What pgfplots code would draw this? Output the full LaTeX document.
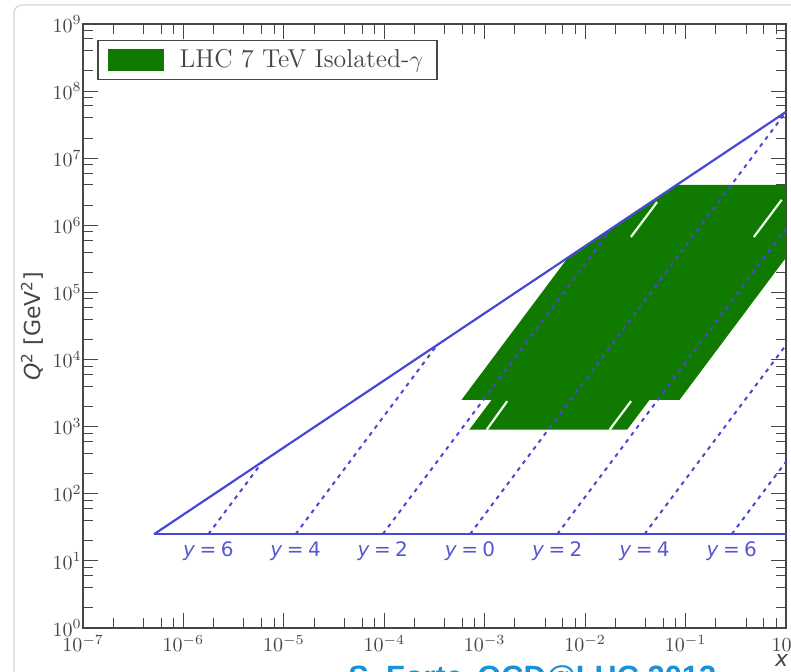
\documentclass[border=0pt]{standalone}
\usepackage{fontspec}
\usepackage{pgfplots}
\pgfplotsset{compat=1.18}
\newfontfamily\dejavu{DejaVu Sans}
\newfontfamily\footfont{Liberation Sans}
\definecolor{regiongreen}{RGB}{16,122,0}
\definecolor{kinblue}{RGB}{72,72,212}
\definecolor{labblue}{RGB}{88,88,206}
\definecolor{axisgray}{RGB}{70,70,70}
\definecolor{framegray}{RGB}{212,212,212}
\definecolor{footblue}{RGB}{28,145,215}
\tikzset{
  ylab/.style={labblue, font=\dejavu\fontsize{10}{12}\selectfont, anchor=center, yshift=-8.5pt, inner sep=0pt},
  kinline/.style={kinblue, line width=1.1pt},
  rapline/.style={kinblue, line width=1.0pt, dash pattern=on 2pt off 2.4pt},
  edgeline/.style={white!92!green, line width=1.1pt},
}
\newcommand{\ylabtext}[1]{\textit{y}\hspace{0.22em}=\hspace{0.22em}#1}
\begin{document}
\begin{tikzpicture}
\useasboundingbox (0,0) rectangle (395.5pt,336pt);
% slide frame
\draw[framegray, line width=0.6pt, rounded corners=4pt] (7pt,-2pt) -- (7pt,333.5pt) -- (397pt,333.5pt);
\begin{axis}[
  at={(41.5pt,22pt)}, anchor=south west,
  scale only axis, width=351.5pt, height=302pt,
  xmode=log, ymode=log,
  xmin=1e-7, xmax=1, ymin=1, ymax=1e9,
  xtick={1e-7,1e-6,1e-5,1e-4,1e-3,1e-2,1e-1,1},
  ytick={1,10,100,1e3,1e4,1e5,1e6,1e7,1e8,1e9},
  minor xtick={2e-7,4e-7,6e-7,8e-7,2e-6,4e-6,6e-6,8e-6,2e-5,4e-5,6e-5,8e-5,
    2e-4,4e-4,6e-4,8e-4,2e-3,4e-3,6e-3,8e-3,0.02,0.04,0.06,0.08,0.2,0.4,0.6,0.8},
  minor ytick={2,4,6,8,20,40,60,80,200,400,600,800,2e3,4e3,6e3,8e3,
    2e4,4e4,6e4,8e4,2e5,4e5,6e5,8e5,2e6,4e6,6e6,8e6,2e7,4e7,6e7,8e7,2e8,4e8,6e8,8e8},
  major tick length=7.5pt, minor tick length=5pt,
  every tick/.style={axisgray, line width=0.5pt},
  axis line style={axisgray, line width=0.8pt},
  tick label style={text=axisgray, font=\fontsize{10}{12}\selectfont},
  yticklabel style={inner xsep=0.5pt},
  xlabel={\dejavu\fontsize{11}{13}\selectfont\textit{x}},
  xlabel style={at={(axis description cs:0.994,-0.0546)}, anchor=center, text=axisgray},
  ylabel={\dejavu\fontsize{11}{13}\selectfont\textit{Q}\textsuperscript{2} [GeV\textsuperscript{2}]},
  ylabel style={at={(axis description cs:-0.0725,0.5)}, anchor=center, text=axisgray},
  legend style={at={(rel axis cs:0.02,0.974)}, anchor=north west,
    draw=axisgray, line width=0.8pt, inner xsep=5pt, inner ysep=2.5pt,
    font=\fontsize{12.9}{15}\selectfont, text=axisgray, legend cell align=left},
]
% coverage of the isolated-photon data: |y|<2.5 for Q^2 > 2500, |y|<1.81 for Q^2 > 900
\addplot[fill=regiongreen, draw=none, forget plot] coordinates {
  (5.865e-4,2500) (0.08705,2500) (1,3.3016e5) (1,4e6) (0.08163,4e6) (6.738e-3,3.3016e5) (5.865e-4,2500)};
\addplot[fill=regiongreen, draw=none, forget plot] coordinates {
  (7.015e-4,900) (0.02618,900) (0.04365,2500) (1.1695e-3,2500) (7.015e-4,900)};
% uncovered pieces of the inner bin outline
\addplot[edgeline, forget plot] coordinates {(1.047e-3,900) (1.675e-3,2400)};
\addplot[edgeline, forget plot] coordinates {(0.01754,900) (0.02864,2400)};
\addplot[edgeline, forget plot] coordinates {(0.02858,6.70e5) (0.05205,2.223e6)};
\addplot[edgeline, forget plot] coordinates {(0.4786,6.70e5) (0.9057,2.399e6)};
% kinematic boundaries at sqrt(s) = 7 TeV
\addplot[kinline, forget plot] coordinates {(5.102e-7,25) (1,25)};
\addplot[kinline, forget plot] coordinates {(5.102e-7,25) (1,4.9e7)};
% fixed-rapidity lines
\addplot[rapline, forget plot] coordinates {(1.7706e-6,25) (6.144e-6,301)};
\addplot[rapline, forget plot] coordinates {(1.3083e-5,25) (3.3546e-4,1.6438e4)};
\addplot[rapline, forget plot] coordinates {(9.667e-5,25) (0.0183156,8.9747e5)};
\addplot[rapline, forget plot] coordinates {(7.1429e-4,25) (1,4.9e7)};
\addplot[rapline, forget plot] coordinates {(5.278e-3,25) (1,8.9747e5)};
\addplot[rapline, forget plot] coordinates {(0.039,25) (1,1.6438e4)};
\addplot[rapline, forget plot] coordinates {(0.28816,25) (1,301)};
\node[ylab] at (axis cs:1.7706e-6,25) {\ylabtext{6}};
\node[ylab] at (axis cs:1.3083e-5,25) {\ylabtext{4}};
\node[ylab] at (axis cs:9.667e-5,25) {\ylabtext{2}};
\node[ylab] at (axis cs:7.1429e-4,25) {\ylabtext{0}};
\node[ylab] at (axis cs:5.278e-3,25) {\ylabtext{2}};
\node[ylab] at (axis cs:0.039,25) {\ylabtext{4}};
\node[ylab] at (axis cs:0.28816,25) {\ylabtext{6}};
\addlegendimage{legend image code/.code={\fill[regiongreen] (0pt,-5pt) rectangle (27.5pt,5pt); \path[draw=none, fill=none] (0pt,0pt) -- (33.5pt,0pt);}}
\addlegendentry{LHC 7 TeV Isolated-$\gamma$}
\end{axis}
% footer line of the slide
\begin{scope}
\clip (0,0) rectangle (395.5pt,336pt);
\node[footblue, font=\footfont\bfseries\fontsize{15.4}{18}\selectfont, anchor=base west, inner sep=0pt] at (174pt,-7.8pt) {S. Forte};
\node[footblue, font=\footfont\bfseries\fontsize{15.4}{18}\selectfont, anchor=base west, inner sep=0pt] at (238.5pt,-7.8pt) {QCD@LHC 2013};
\end{scope}
\end{tikzpicture}
\end{document}
